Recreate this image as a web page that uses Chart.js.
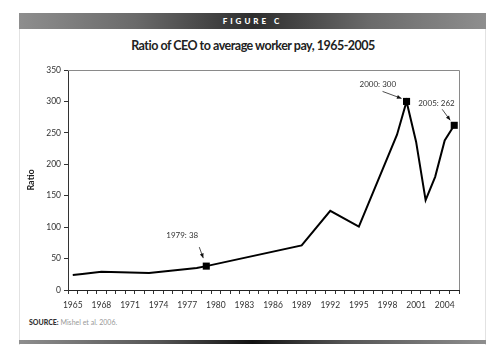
<!DOCTYPE html>
<html>
<head>
<meta charset="utf-8">
<script src="https://cdn.jsdelivr.net/npm/chart.js@4.4.1/dist/chart.umd.min.js"></script>
<style>
  html, body { margin: 0; padding: 0; background: #fff; }
  body { width: 500px; height: 363px; position: relative; overflow: hidden; font-family: Lato, "Open Sans", sans-serif; }
  .frame { position: absolute; left: 19px; top: 14px; width: 467px; height: 331px; border-left: 1px solid #e2e2e2; border-right: 1px solid #e2e2e2; box-sizing: border-box; }
  .head { position: absolute; left: 19px; top: 13px; width: 467px; height: 16px;
          background: linear-gradient(to right, #8e8e8e, #6a6a6a 25%, #2e2e2e 50%, #6a6a6a 75%, #8e8e8e);
          color: #fff; font-weight: 900; font-size: 8px; letter-spacing: 3px; text-align: center; line-height: 16px; }
  .foot { position: absolute; left: 19px; top: 340px; width: 467px; height: 4px;
          background: linear-gradient(to right, #8e8e8e, #555 30%, #111 50%, #555 70%, #8e8e8e); }
  .title { position: absolute; left: 0; width: 506px; top: 38px; text-align: center; font-weight: bold; font-size: 12.5px; letter-spacing: -0.5px; color: #222; }
  .source { position: absolute; left: 29px; top: 318px; font-size: 7px; color: #999; }
  .source b { color: #333; font-weight: 900; }
  #wrap { position: absolute; left: 0; top: 0; width: 500px; height: 363px; }
</style>
</head>
<body>
<div class="frame"></div>
<div class="head">FIGURE C</div>
<div class="title">Ratio of CEO to average worker pay, 1965-2005</div>
<div class="source"><b>SOURCE:</b> Mishel et al. 2006.</div>
<div class="foot"></div>
<div id="wrap"><canvas id="chart"></canvas></div>
<script>
// Tahun (kategori) dan nilai rasio gaji CEO / pekerja rata-rata
const years = [];
for (let y = 1965; y <= 2005; y++) years.push(String(y));

// null = tidak ada data (garis disambung lurus)
const ratio = [
  24, 25.5, null, 29, null, null, null, null, 27, null,
  null, null, null, 35, 38, null, null, null, null, null,
  null, null, null, null, 71, null, null, 126, null, null,
  101, null, null, null, 247, 300, 236, 143, 180, 238,
  262
];

// Titik yang diberi label: posisi teks & panah relatif ke titik
const callouts = [
  { year: '1979', text: '1979: 38',  tx: -40, ty: -31, arrow: [-7, -19, -3, -8] },
  { year: '2000', text: '2000: 300', tx: -47, ty: -17, arrow: [-24, -10, -5, -3] },
  { year: '2005', text: '2005: 262', tx: -36, ty: -22, arrow: [-12, -16, -4, -5] },
];

const yTicks = [0, 50, 100, 150, 200, 250, 300, 350];

const pointSize = ratio.map((v, i) => callouts.some(c => c.year === years[i]) ? 5 : 0);

// kotak area plot (garis atas & kanan abu-abu) + panah keterangan
const extras = {
  id: 'extras',
  beforeDatasetsDraw(chart) {
    const { ctx, chartArea: a } = chart;
    ctx.save();
    ctx.strokeStyle = '#8a8a8a';
    ctx.lineWidth = 1;
    ctx.beginPath();
    ctx.moveTo(a.left, a.top + 0.5);
    ctx.lineTo(a.right + 0.5, a.top + 0.5);
    ctx.lineTo(a.right + 0.5, a.bottom);
    ctx.stroke();
    ctx.restore();
  },
  afterDatasetsDraw(chart) {
    const { ctx, scales: { x, y } } = chart;
    ctx.save();
    ctx.font = '8px Lato, sans-serif';
    ctx.strokeStyle = '#222';
    ctx.lineWidth = 0.8;
    callouts.forEach(c => {
      const i = years.indexOf(c.year);
      const px = x.getPixelForValue(i);
      const py = y.getPixelForValue(ratio[i]);
      const [x0, y0, x1, y1] = c.arrow;
      const ax0 = px + x0, ay0 = py + y0, ax1 = px + x1, ay1 = py + y1;
      ctx.beginPath();
      ctx.moveTo(ax0, ay0);
      ctx.lineTo(ax1, ay1);
      ctx.stroke();
      const ang = Math.atan2(ay1 - ay0, ax1 - ax0);
      ctx.beginPath();
      ctx.moveTo(ax1, ay1);
      ctx.lineTo(ax1 - 5 * Math.cos(ang - 0.4), ay1 - 5 * Math.sin(ang - 0.4));
      ctx.lineTo(ax1 - 5 * Math.cos(ang + 0.4), ay1 - 5 * Math.sin(ang + 0.4));
      ctx.closePath();
      ctx.fillStyle = '#111';
      ctx.fill();
      ctx.fillStyle = '#333';
      ctx.textAlign = 'left';
      ctx.textBaseline = 'middle';
      ctx.fillText(c.text, px + c.tx, py + c.ty);
    });
    ctx.restore();
  },
};

new Chart(document.getElementById('chart'), {
  type: 'line',
  data: {
    labels: years,
    datasets: [{
      data: ratio,
      borderColor: '#000',
      borderWidth: 2,
      tension: 0,
      spanGaps: true,
      pointStyle: 'rect',
      pointRadius: pointSize,
      pointBackgroundColor: '#000',
      pointBorderWidth: 0,
    }],
  },
  options: {
    responsive: true,
    maintainAspectRatio: false,
    animation: false,
    events: [],
    layout: { padding: { left: 26, top: 70, right: 41, bottom: 50 } },
    plugins: { legend: { display: false }, tooltip: { enabled: false } },
    scales: {
      x: {
        offset: true,
        afterFit: (s) => { s.height = 23; },
        grid: { offset: true, drawOnChartArea: false, tickLength: 4, color: '#333' },
        border: { color: '#222', width: 1 },
        ticks: {
          autoSkip: false, maxRotation: 0, padding: 6,
          color: '#333', font: { family: 'Lato', size: 8.5 },
          callback(v, i) { return i % 3 === 0 ? this.getLabelForValue(v) : ''; },
        },
      },
      y: {
        min: 0, max: 350,
        afterFit: (s) => { s.width = 42; },
        afterBuildTicks: (s) => { s.ticks = yTicks.map(v => ({ value: v })); },
        grid: { drawOnChartArea: false, tickLength: 4, color: '#333' },
        border: { color: '#333', width: 1 },
        title: { display: true, text: 'Ratio', color: '#222', font: { family: 'Lato', size: 9, weight: 'bold' }, padding: 0 },
        ticks: { color: '#333', padding: 3, font: { family: 'Lato', size: 8.5 } },
      },
    },
  },
  plugins: [extras],
});
</script>
</body>
</html>
